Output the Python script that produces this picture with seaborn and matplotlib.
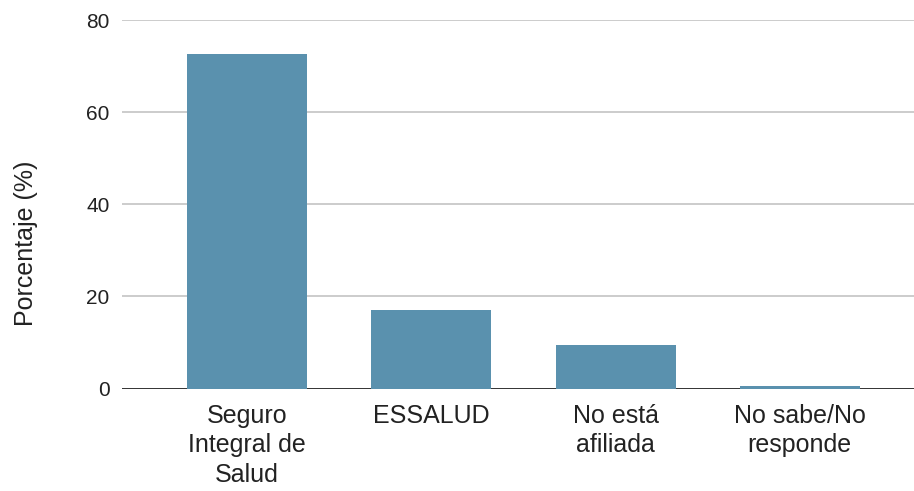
import matplotlib
matplotlib.use("Agg")
import matplotlib.pyplot as plt
import seaborn as sns
import pandas as pd

categories = ["Seguro\nIntegral de\nSalud", "ESSALUD", "No está\nafiliada", "No sabe/No\nresponde"]
values = [72.6, 17.0, 9.4, 0.5]
yticks = [0, 20, 40, 60, 80]

sns.set_theme(style="white")
plt.rcParams['font.family'] = ['Liberation Sans', 'DejaVu Sans']

df = pd.DataFrame({"cat": categories, "val": values})

fig = plt.figure(figsize=(9.14, 4.91), dpi=100)
ax = fig.add_axes([122/914, 102.5/491, 1 - 122/914, (388.5-20)/491])

sns.barplot(data=df, x="cat", y="val", color="#5a91ae", saturation=1, width=0.652,
            linewidth=0, ax=ax, zorder=3)

ax.set_xlim(-0.68, 3.62)
ax.set_ylim(0, 80)
ax.set_yticks(yticks)
for y in yticks[1:]:
    ax.axhline(y, color="#cccccc", lw=1.4, zorder=1)
ax.axhline(0, color="#333333", lw=1.4, zorder=2)

for s in ax.spines.values():
    s.set_visible(False)
ax.tick_params(axis="y", length=0, labelsize=15, colors="#222222", pad=9)
ax.tick_params(axis="x", length=0, labelsize=18, colors="#222222", pad=11)
ax.set_xlabel("")
ax.set_ylabel("Porcentaje (%)", fontsize=18, color="#222222")
ax.yaxis.set_label_coords(-0.106, 0.393)
for lbl in ax.get_xticklabels():
    lbl.set_linespacing(1.3)

fig.savefig("out.png", dpi=100)
